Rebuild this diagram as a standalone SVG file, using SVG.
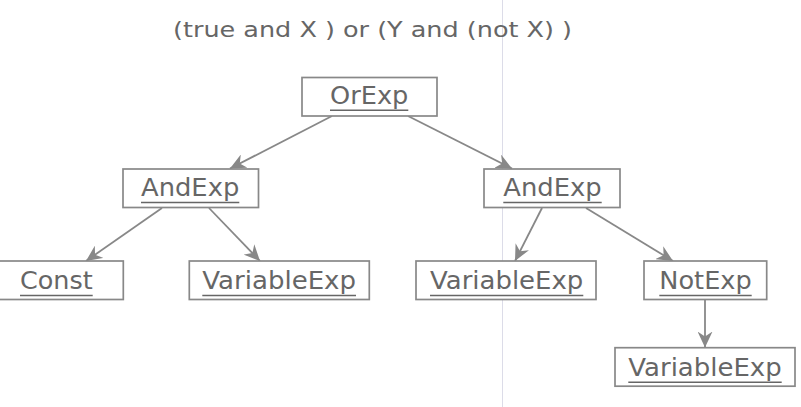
<svg xmlns="http://www.w3.org/2000/svg" width="801" height="407" viewBox="0 0 801 407">
<defs>
<style>
.box{fill:#fff;stroke:#888;stroke-width:1.7}
.lbl{font-family:"DejaVu Sans",sans-serif;font-size:24px;fill:#666}
.ttl{font-family:"DejaVu Sans",sans-serif;font-size:22px;fill:#666}
.ul{stroke:#666;stroke-width:1.6}
.edge{stroke:#888;stroke-width:1.8;fill:none}
</style>
<marker id="arr" viewBox="0 0 16 15" markerWidth="16" markerHeight="15" refX="16" refY="7.5" orient="auto" markerUnits="userSpaceOnUse">
<path d="M0,0 L16,7.5 L0,15 L5,7.5 z" fill="#888"/>
</marker>
</defs>
<rect width="801" height="407" fill="#fff"/>
<line x1="502.5" y1="0" x2="502.5" y2="407" stroke="#dcdce8" stroke-width="1"/>
<text class="ttl" x="173" y="37" textLength="399" lengthAdjust="spacingAndGlyphs">(true and X ) or (Y and (not X) )</text>
<g id="connectors">
<line class="edge" x1="332" y1="116" x2="230" y2="168.5" marker-end="url(#arr)"/>
<line class="edge" x1="408" y1="116" x2="512" y2="168.5" marker-end="url(#arr)"/>
<line class="edge" x1="162" y1="208" x2="86" y2="261" marker-end="url(#arr)"/>
<line class="edge" x1="209" y1="208" x2="260" y2="261" marker-end="url(#arr)"/>
<line class="edge" x1="542" y1="208" x2="515" y2="261" marker-end="url(#arr)"/>
<line class="edge" x1="586" y1="208" x2="673" y2="261" marker-end="url(#arr)"/>
<line class="edge" x1="705" y1="299.5" x2="705" y2="347.5" marker-end="url(#arr)"/>
</g>
<g id="orexp">
<rect class="box" x="302" y="77.5" width="135" height="38.5"/>
<text class="lbl" x="330" y="103.5" textLength="78.3" lengthAdjust="spacingAndGlyphs">OrExp</text>
<line class="ul" x1="330" y1="110.3" x2="408.3" y2="110.3"/>
</g>
<g id="andexp-left">
<rect class="box" x="123" y="169" width="135.5" height="38.5"/>
<text class="lbl" x="141" y="196.3" textLength="98.3" lengthAdjust="spacingAndGlyphs">AndExp</text>
<line class="ul" x1="141" y1="202.5" x2="239.3" y2="202.5"/>
</g>
<g id="andexp-right">
<rect class="box" x="484" y="169" width="136" height="38.5"/>
<text class="lbl" x="503.3" y="196.3" textLength="98.4" lengthAdjust="spacingAndGlyphs">AndExp</text>
<line class="ul" x1="503.3" y1="202.5" x2="601.7" y2="202.5"/>
</g>
<g id="const">
<rect class="box" x="-1" y="261" width="124.3" height="38.5"/>
<text class="lbl" x="20" y="289.3" textLength="72.7" lengthAdjust="spacingAndGlyphs">Const</text>
<line class="ul" x1="20" y1="295.5" x2="92.7" y2="295.5"/>
</g>
<g id="variableexp-left">
<rect class="box" x="189.3" y="261" width="180" height="38.5"/>
<text class="lbl" x="202.3" y="289.3" textLength="153.7" lengthAdjust="spacingAndGlyphs">VariableExp</text>
<line class="ul" x1="202.3" y1="295.5" x2="356" y2="295.5"/>
</g>
<g id="variableexp-mid">
<rect class="box" x="416" y="261" width="180" height="38.5"/>
<text class="lbl" x="430" y="289.3" textLength="153.3" lengthAdjust="spacingAndGlyphs">VariableExp</text>
<line class="ul" x1="430" y1="295.5" x2="583.3" y2="295.5"/>
</g>
<g id="notexp">
<rect class="box" x="644" y="261" width="122.7" height="38.5"/>
<text class="lbl" x="659.3" y="289.3" textLength="92.4" lengthAdjust="spacingAndGlyphs">NotExp</text>
<line class="ul" x1="659.3" y1="295.5" x2="751.7" y2="295.5"/>
</g>
<g id="variableexp-bottom">
<rect class="box" x="615" y="347.7" width="180" height="38.5"/>
<text class="lbl" x="628.3" y="376" textLength="153.4" lengthAdjust="spacingAndGlyphs">VariableExp</text>
<line class="ul" x1="628.3" y1="382.2" x2="781.7" y2="382.2"/>
</g>
</svg>
